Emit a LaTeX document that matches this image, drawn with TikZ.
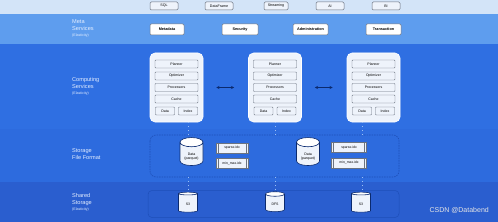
\documentclass[tikz,border=0pt]{standalone}
\usepackage{fontspec}
\setmainfont{Liberation Sans}
\usetikzlibrary{shapes.geometric,arrows.meta,calc}
\definecolor{bandtop}{HTML}{D3E4F8}
\definecolor{bandmeta}{HTML}{5E9DEE}
\definecolor{bandcomp}{HTML}{2F6FE2}
\definecolor{bandstor}{HTML}{2D6BDE}
\definecolor{bandshared}{HTML}{2A5ECF}
\definecolor{boxfill}{HTML}{EEF3FB}
\definecolor{boxline}{HTML}{6B7380}
\definecolor{labelcol}{HTML}{E4EEFF}
\definecolor{dashcol}{HTML}{1E4FB8}
\definecolor{dotcol}{HTML}{9CC0F5}
\definecolor{arrowcol}{HTML}{0B2A6E}
\tikzset{
  topbox/.style={draw=boxline,fill=boxfill,rounded corners=1.2pt,line width=0.5pt,minimum width=28pt,minimum height=8pt,inner sep=0pt,font=\fontsize{3.6}{4}\selectfont},
  metabox/.style={draw=boxline,fill=white,rounded corners=1.2pt,line width=0.5pt,minimum height=11pt,inner sep=0pt,font=\fontsize{3.8}{4.5}\selectfont\bfseries},
  compbox/.style={draw=white,fill=boxfill,rounded corners=5pt,line width=0.6pt,minimum width=53pt,minimum height=69pt,inner sep=0pt},
  innerbox/.style={draw=boxline,fill=boxfill,rounded corners=0.8pt,line width=0.45pt,minimum width=43pt,minimum height=8pt,inner sep=0pt,font=\fontsize{3.5}{4}\selectfont},
  halfbox/.style={innerbox,minimum width=19pt},
  lbl/.style={anchor=north west,align=left,text=labelcol,inner sep=0pt,font=\fontsize{5.6}{7}\selectfont},
  db/.style={cylinder,shape border rotate=90,draw=arrowcol,line width=0.6pt,cylinder uses custom fill,cylinder body fill=boxfill,cylinder end fill=white,aspect=0.65,inner sep=0pt,font=\fontsize{3.5}{4.2}\selectfont,align=center},
  idx/.style={draw=boxline,fill=boxfill,line width=0.45pt,minimum width=32pt,minimum height=10pt,inner sep=0pt,font=\fontsize{3.4}{4}\selectfont,
    path picture={
      \draw[boxline,line width=0.35pt] ([xshift=2pt]path picture bounding box.north west) -- ([xshift=2pt]path picture bounding box.south west);
      \draw[boxline,line width=0.35pt] ([xshift=-2pt]path picture bounding box.north east) -- ([xshift=-2pt]path picture bounding box.south east);
    }},
  dotline/.style={dotcol,line width=0.8pt,dash pattern=on 0.9pt off 3pt},
  biarrow/.style={arrowcol,line width=0.5pt,{Stealth[length=3.2pt,width=3pt]}-{Stealth[length=3.2pt,width=3pt]}}
}
\begin{document}
\begin{tikzpicture}[x=1pt,y=-1pt]
\useasboundingbox (0,0) rectangle (498,222);
% bands
\fill[bandtop] (0,0) rectangle (498,14);
\fill[bandmeta] (0,14) rectangle (498,44);
\fill[bandcomp] (0,44) rectangle (498,129);
\fill[bandstor] (0,129) rectangle (498,182);
\fill[bandshared] (0,182) rectangle (498,222);
% top row
\node[topbox] (sql) at (164,6) {SQL};
\node[topbox] (df) at (219,6) {DataFrame};
\node[topbox,minimum width=24pt] (stream) at (276,6) {Streaming};
\node[topbox] (ai) at (330,6) {AI};
\node[topbox] (bi) at (386,6) {BI};
% labels
\node[lbl] (lmeta) at (72,19.5) {Meta\\Services\\[-1.2pt]{\fontsize{3.6}{4}\selectfont(Elasticity)}};
\node[lbl] (lcomp) at (72,77.5) {Computing\\Services\\[-1.2pt]{\fontsize{3.6}{4}\selectfont(Elasticity)}};
\node[lbl] (lstor) at (72,148.5) {Storage\\File Format};
\node[lbl] (lshared) at (72,193.5) {Shared\\Storage\\[-1.2pt]{\fontsize{3.6}{4}\selectfont(Elasticity)}};
% meta row
\node[metabox,minimum width=34pt] (metadata) at (167,29.5) {Metadata};
\node[metabox,minimum width=36pt] (security) at (240,29.5) {Security};
\node[metabox,minimum width=35pt] (admin) at (310.5,29.5) {Administration};
\node[metabox,minimum width=35pt] (trans) at (383.5,29.5) {Transaction};
% storage containers
\draw[dashcol,line width=0.6pt,dashed,dash pattern=on 1.5pt off 1pt,rounded corners=6pt] (150,135) rectangle (399,177);
\node[draw=dashcol,line width=0.5pt,rounded corners=4pt,minimum width=251pt,minimum height=27pt,inner sep=0pt] (sharedbox) at (273.5,204) {};
\coordinate (sbtop1) at (188,135);
\coordinate (sbtop2) at (275,135);
\coordinate (sbtop3) at (362,135);
\coordinate (sbbot1) at (188,177);
\coordinate (sbbot2) at (275,177);
\coordinate (sbbot3) at (362,177);
% compute boxes
\foreach \i/\cx in {1/176.5,2/275,3/373.5}{
  \node[compbox] (c\i) at (\cx,87.5) {};
  \node[innerbox] (planner\i) at (\cx,64) {Planner};
  \node[innerbox] (opt\i) at (\cx,76) {Optimizer};
  \node[innerbox] (proc\i) at (\cx,87.5) {Processors};
  \node[innerbox] (cache\i) at (\cx,99) {Cache};
  \node[halfbox] (data\i) at (\cx-11.5,111) {Data};
  \node[halfbox] (index\i) at (\cx+11.5,111) {Index};
}
\draw[biarrow] ([xshift=13pt]c1.east) -- ([xshift=-14pt]c2.west);
\draw[biarrow] ([xshift=13pt]c2.east) -- ([xshift=-14pt]c3.west);
% storage file format
\node[db,minimum width=23pt,minimum height=28pt] (pq1) at (191.5,154) {\\[3pt]Data\\(parquet)};
\node[db,minimum width=23pt,minimum height=28pt] (pq2) at (308,154) {\\[3pt]Data\\(parquet)};
\node[idx] (sp1) at (232,148) {sparse.idx};
\node[idx] (mm1) at (232,163.5) {min\_max.idx};
\node[idx,minimum width=35pt] (sp2) at (349,147.5) {sparse.idx};
\node[idx,minimum width=35pt] (mm2) at (349,163) {min\_max.idx};
% shared storage
\node[db,minimum width=19pt,minimum height=20pt] (s3a) at (188,203) {\\[1.5pt]S3};
\node[db,minimum width=19pt,minimum height=20pt] (dfs) at (275,203) {\\[1.5pt]DFS};
\node[db,minimum width=19pt,minimum height=20pt] (s3b) at (361,203) {\\[1.5pt]S3};
% dotted connectors
\draw[dotline] (c1.south -| sbtop1) -- (sbtop1);
\draw[dotline] (c2.south -| sbtop2) -- (sbtop2);
\draw[dotline] (c3.south -| sbtop3) -- (sbtop3);
\draw[dotline] (sbbot1) -- (sharedbox.north -| sbbot1);
\draw[dotline] (sbbot2) -- (sharedbox.north -| sbbot2);
\draw[dotline] (sbbot3) -- (sharedbox.north -| sbbot3);
% watermark
\node[text=white!80!gray,font=\fontsize{7}{8}\selectfont,anchor=east,inner sep=0pt] (wm) at (489,210) {CSDN @Databend};
\end{tikzpicture}
\end{document}
